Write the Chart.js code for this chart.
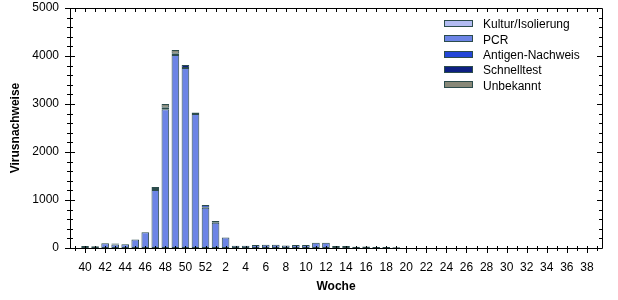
<!DOCTYPE html>
<html>
<head>
<meta charset="utf-8">
<script src="https://cdn.jsdelivr.net/npm/chart.js@4/dist/chart.umd.min.js"></script>
<style>
  body { margin: 0; background: #fff; }
  #wrap { width: 618px; height: 300px; }
</style>
</head>
<body>
<div id="wrap"><canvas id="chart" width="618" height="300"></canvas></div>
<script>
// Kalenderwochen 39/2020 .. 39/2021
const weeks = [39, 40, 41, 42, 43, 44, 45, 46, 47, 48, 49, 50, 51, 52,
    1, 2, 3, 4, 5, 6, 7, 8, 9, 10, 11, 12, 13, 14, 15, 16, 17, 18, 19, 20,
    21, 22, 23, 24, 25, 26, 27, 28, 29, 30, 31, 32, 33, 34, 35, 36, 37, 38, 39];

const kultur = new Array(53).fill(0);
const pcr = [0, 40, 35, 100, 75, 80, 175, 330, 1210, 2890, 4020, 3750, 2790, 840,
    525, 220, 45, 45, 65, 70, 70, 50, 65, 65, 110, 110, 40, 40, 25, 30, 20, 20, 15, 0,
    0, 0, 0, 0, 0, 0, 0, 0, 0, 0, 0, 0, 0, 0, 0, 0, 0, 0, 0];
const antigen = [0, 0, 0, 0, 0, 0, 0, 0, 0, 0, 0, 0, 0, 55,
    0, 0, 0, 0, 0, 0, 0, 0, 0, 0, 0, 0, 0, 0, 0, 0, 0, 0, 0, 0,
    0, 0, 0, 0, 0, 0, 0, 0, 0, 0, 0, 0, 0, 0, 0, 0, 0, 0, 0];
const schnelltest = [0, 0, 0, 0, 20, 0, 0, 0, 20, 30, 25, 60, 35, 0,
    35, 0, 0, 0, 0, 0, 0, 0, 0, 0, 0, 0, 0, 0, 0, 0, 0, 0, 0, 0,
    0, 0, 0, 0, 0, 0, 0, 0, 0, 0, 0, 0, 0, 0, 0, 0, 0, 0, 0];
const unbekannt = [0, 0, 0, 0, 0, 0, 0, 0, 40, 80, 80, 0, 0, 0,
    0, 0, 0, 0, 0, 0, 0, 0, 0, 0, 0, 0, 0, 0, 0, 0, 0, 0, 0, 0,
    0, 0, 0, 0, 0, 0, 0, 0, 0, 0, 0, 0, 0, 0, 0, 0, 0, 0, 0];

const seriesNames = ['Kultur/Isolierung', 'PCR', 'Antigen-Nachweis', 'Schnelltest', 'Unbekannt'];
const seriesColors = ['#b3bcf2', '#6c84e6', '#2346d8', '#0d1f82', '#888878'];
const edgeColor = '#2c4c4c';

const seriesData = [kultur, pcr, antigen, schnelltest, unbekannt];

// frame and tick marks like the original graphic
const framePlugin = {
    id: 'frame',
    afterDraw(chart) {
        const ctx = chart.ctx;
        const a = chart.chartArea;
        const x = chart.scales.x;
        const y = chart.scales.y;
        ctx.save();
        ctx.strokeStyle = '#000';
        ctx.lineWidth = 1;
        ctx.beginPath();
        ctx.rect(Math.round(a.left) + 0.5, Math.round(a.top) + 0.5,
            Math.round(a.right - a.left), Math.round(a.bottom - a.top));
        weeks.forEach((w, i) => {
            const px = Math.round(x.getPixelForValue(i)) + 0.5;
            const down = (w % 2 === 0) ? 5 : 3;
            ctx.moveTo(px, a.bottom - 2);
            ctx.lineTo(px, a.bottom + down);
            ctx.moveTo(px, a.top);
            ctx.lineTo(px, a.top + 4);
        });
        for (let v = 0; v <= 5000; v += 200) {
            const py = Math.round(y.getPixelForValue(v)) + 0.5;
            const major = v % 1000 === 0;
            ctx.moveTo(a.left - (major ? 5 : 3), py);
            ctx.lineTo(a.left + (major ? 5 : 3), py);
            ctx.moveTo(a.right, py);
            ctx.lineTo(a.right - (major ? 5 : 3), py);
        }
        ctx.stroke();

        // legend
        ctx.font = '12px "Liberation Sans", Arial, sans-serif';
        ctx.textBaseline = 'middle';
        seriesNames.forEach((name, i) => {
            const ly = 24 + i * 15.3;
            ctx.fillStyle = seriesColors[i];
            ctx.fillRect(444, Math.round(ly - 4), 29, 7);
            ctx.strokeStyle = edgeColor;
            ctx.strokeRect(444.5, Math.round(ly - 4) + 0.5, 28, 6);
            ctx.fillStyle = '#000';
            ctx.fillText(name, 483, ly + 1);
        });
        ctx.restore();
    }
};

new Chart('chart', {
    type: 'bar',
    data: {
        labels: weeks.map(String),
        datasets: seriesNames.map((name, i) => ({
            label: name,
            data: seriesData[i].map(v => v || null),
            backgroundColor: seriesColors[i],
            borderColor: edgeColor,
            borderWidth: 1,
            borderSkipped: false,
            barPercentage: 0.76,
            categoryPercentage: 1
        }))
    },
    options: {
        responsive: false,
        animation: false,
        layout: { padding: { top: 0, right: 16, left: 0, bottom: 0 } },
        plugins: {
            legend: { display: false },
            tooltip: { enabled: false }
        },
        scales: {
            x: {
                stacked: true,
                grid: { display: false, drawTicks: false },
                border: { display: false },
                ticks: {
                    autoSkip: false,
                    maxRotation: 0,
                    padding: 12,
                    color: '#000',
                    font: { family: '"Liberation Sans", Arial', size: 12 },
                    callback: function (val, i) {
                        return weeks[i] % 2 === 0 ? String(weeks[i]) : '';
                    }
                },
                title: {
                    display: true,
                    text: 'Woche',
                    color: '#000',
                    font: { family: '"Liberation Sans", Arial', size: 12, weight: 'bold' },
                    padding: { top: 2, bottom: 6 }
                },
                afterFit: s => { s.height = 52; }
            },
            y: {
                stacked: true,
                min: 0,
                max: 5000,
                grid: { display: false, drawTicks: false },
                border: { display: false },
                ticks: {
                    stepSize: 1000,
                    padding: 11,
                    color: '#000',
                    font: { family: '"Liberation Sans", Arial', size: 12 },
                    callback: v => String(v)
                },
                title: {
                    display: true,
                    text: 'Virusnachweise',
                    color: '#000',
                    font: { family: '"Liberation Sans", Arial', size: 12, weight: 'bold' },
                    padding: { top: 8, bottom: 0 }
                },
                afterFit: s => { s.width = 70; s.paddingTop = 8; s.paddingBottom = 0; }
            }
        }
    },
    plugins: [framePlugin]
});
</script>
</body>
</html>
